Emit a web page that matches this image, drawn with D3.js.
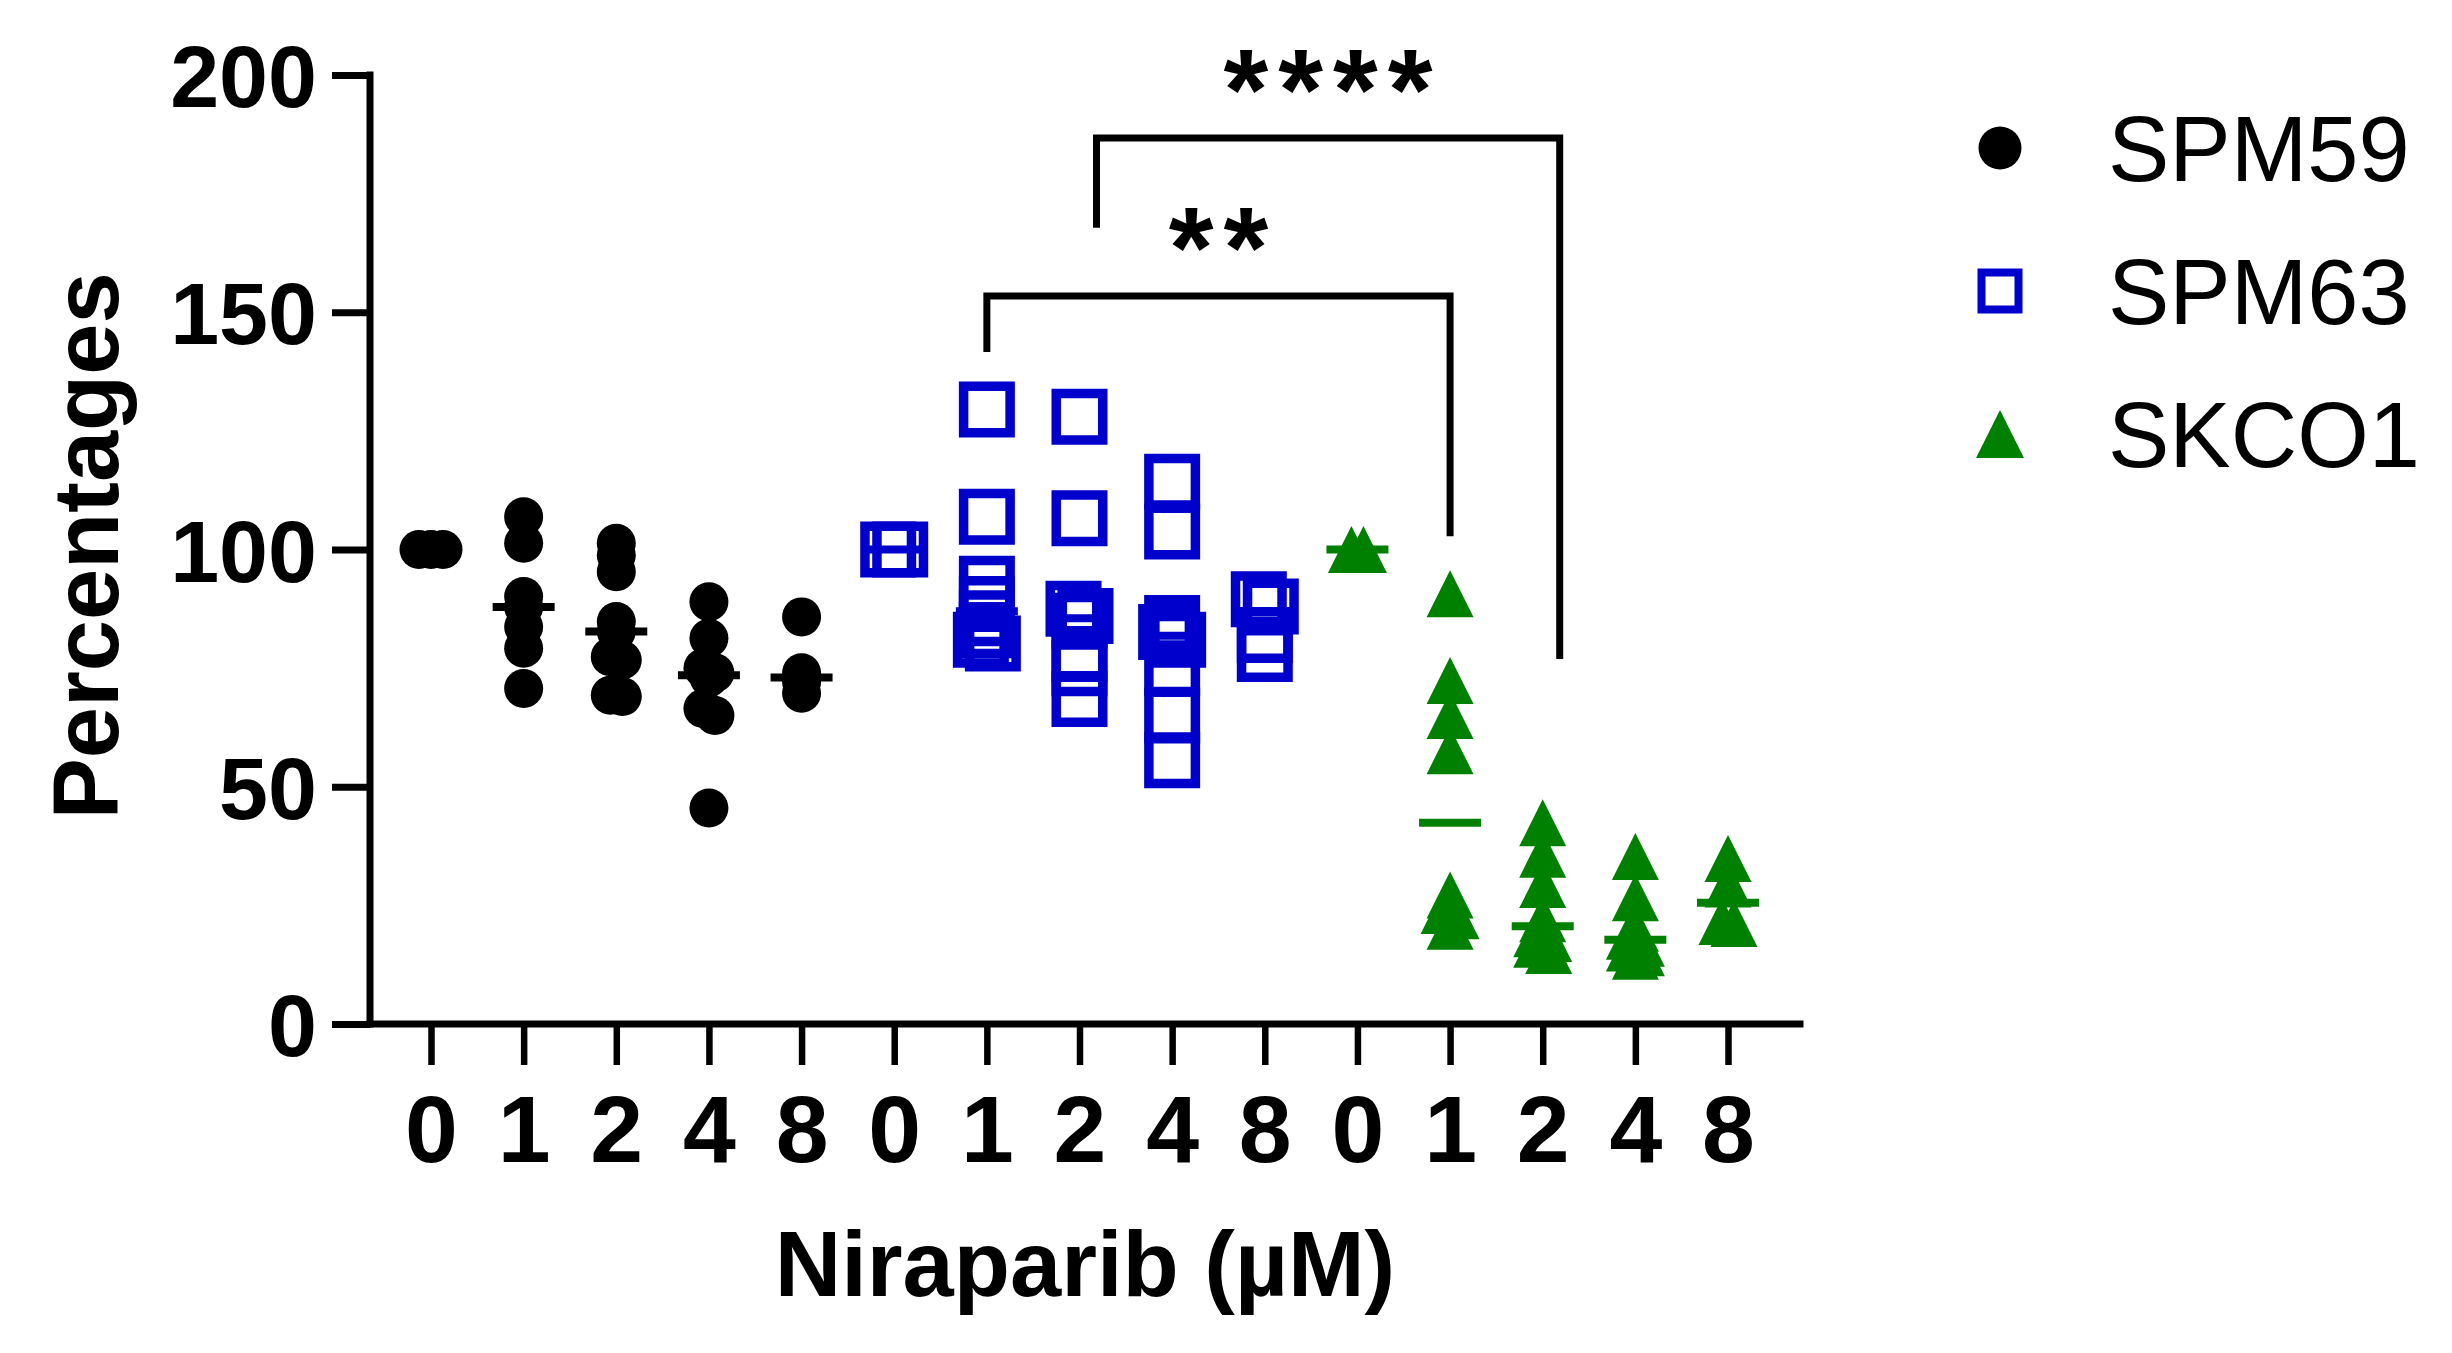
<!DOCTYPE html>
<html><head><meta charset="utf-8">
<script src="https://cdn.jsdelivr.net/npm/d3@7"></script>
<style>body{margin:0;background:#fff} svg{display:block}</style>
</head><body>
<svg id="chart" width="2452" height="1353"></svg>
<script>
// ---------- data ----------
const doses = ["0", "1", "2", "4", "8"];
const seriesNames = ["SPM59", "SPM63", "SKCO1"];
const seriesColors = ["#000000", "#0000CC", "#008000"];
const spm59 = [
  [100, 100, 100],
  [106.9, 101.3, 90.1, 87.9, 83.7, 79.2, 70.7],
  [101.3, 98.8, 95.3, 84.8, 82.7, 77.4, 76.7, 69.3, 69.0],
  [89.0, 81.3, 75.0, 74.0, 73.0, 66.5, 65.0, 45.5],
  [85.8, 74.0, 72.1, 69.7]
];
const spm63 = [
  [100, 100],
  [129.5, 106.9, 92.8, 88.5, 85.5, 83.0, 81.0, 80.2],
  [128.0, 106.6, 87.5, 86.0, 85.0, 78.0, 75.0, 68.5],
  [114.3, 103.8, 84.5, 82.6, 81.0, 75.0, 65.0, 55.6],
  [89.5, 88.0, 82.0, 78.0]
];
const skco1 = [
  [100, 100],
  [90.7, 72.4, 65.0, 57.6, 27.2, 23.9, 22.8, 20.6],
  [42.4, 35.8, 29.4, 22.2, 19.0, 18.0, 16.8, 15.5],
  [35.3, 26.6, 20.2, 18.5, 17.0, 16.0, 15.0, 14.3],
  [34.9, 29.5, 21.6, 21.2]
];
const yTicks = [0, 50, 100, 150, 200];
// significance brackets: [series, dose index] pairs, bracket level & leg ends (data units)
const compA = [[1, 1], [1, 2]];
const compB = [[2, 1], [2, 2]];
const compLabels = ["**", "****"];
const compLevels = [153.4, 186.7];
const compLegA = [141.6, 167.8];
const compLegB = [102.8, 76.9];

const allSeries = [spm59, spm63, skco1];

// ---------- layout ----------
const FONT = "'Liberation Sans', Arial, Helvetica, sans-serif";
const svg = d3.select("#chart");
svg.append("rect").attr("width", 2452).attr("height", 1353).attr("fill", "#fff");

const axisX0 = 370, axisX1 = 1800;
const x = d3.scalePoint().domain(d3.range(15)).range([431, 1728]);
const y = d3.scaleLinear().domain([0, 200]).range([1024, 75]);

// ---------- axes ----------
const gy = svg.append("g").attr("transform", `translate(${axisX0},0)`)
  .call(d3.axisLeft(y).tickValues(yTicks).tickSize(38).tickPadding(15));
gy.select(".domain").remove();
gy.selectAll(".tick line").attr("stroke", "#000").attr("stroke-width", 7);
gy.selectAll(".tick text").attr("font-family", FONT).attr("font-weight", "bold")
  .attr("font-size", 88).attr("fill", "#000").attr("dy", "0.36em");

const gx = svg.append("g").attr("transform", `translate(0,${y(0)})`)
  .call(d3.axisBottom(x).tickValues(d3.range(15)).tickFormat(i => doses[i % 5]).tickSize(41));
gx.select(".domain").remove();
gx.selectAll(".tick line").attr("stroke", "#000").attr("stroke-width", 6.5);
gx.selectAll(".tick text").attr("font-family", FONT).attr("font-weight", "bold")
  .attr("font-size", 95).attr("fill", "#000").attr("y", 138).attr("dy", null);

svg.append("line").attr("x1", axisX0).attr("x2", axisX0).attr("y1", y(200)).attr("y2", y(0))
  .attr("stroke", "#000").attr("stroke-width", 7).attr("stroke-linecap", "square");
svg.append("line").attr("x1", axisX0).attr("x2", axisX1).attr("y1", y(0)).attr("y2", y(0))
  .attr("stroke", "#000").attr("stroke-width", 7).attr("stroke-linecap", "square");

// axis titles
svg.append("text").attr("transform", "translate(118,546) rotate(-90)")
  .attr("text-anchor", "middle").attr("font-family", FONT).attr("font-weight", "bold")
  .attr("font-size", 92).text("Percentages");
svg.append("text").attr("x", 1085).attr("y", 1296)
  .attr("text-anchor", "middle").attr("font-family", FONT).attr("font-weight", "bold")
  .attr("font-size", 92).text("Niraparib (\u00B5M)");

// ---------- markers ----------
const triangleType = {
  draw(ctx, s) { const h = s / 2; ctx.moveTo(0, -h); ctx.lineTo(h, h); ctx.lineTo(-h, h); ctx.closePath(); }
};
const markerGen = [
  d3.symbol().type(d3.symbolCircle).size(Math.PI * 19.5 * 19.5),
  d3.symbol().type(d3.symbolSquare).size(46.5 * 46.5),
  d3.symbol().type(triangleType).size(47)
];
const legendGen = [
  d3.symbol().type(d3.symbolCircle).size(Math.PI * 21.5 * 21.5),
  d3.symbol().type(d3.symbolSquare).size(37 * 37),
  d3.symbol().type(triangleType).size(48)
];
function styleMarker(sel, si) {
  if (si === 1) sel.attr("fill", "none").attr("stroke", seriesColors[si]).attr("stroke-width", 9.5);
  else sel.attr("fill", seriesColors[si]).attr("stroke", "none");
}

// spread overlapping points horizontally (symmetric, per cluster of near-equal values)
function dodge(vals, h, s) {
  const sorted = vals.slice().sort((a, b) => b - a);
  const out = []; let cluster = [];
  const flush = () => {
    cluster.forEach((v, i) => out.push({ v, dx: (i - (cluster.length - 1) / 2) * s }));
    cluster = [];
  };
  sorted.forEach(v => {
    if (cluster.length && Math.abs(y(v) - y(cluster[0])) > h) flush();
    cluster.push(v);
  });
  flush();
  return out;
}

const plot = svg.append("g");
allSeries.forEach((groups, si) => {
  groups.forEach((vals, di) => {
    const cx = x(si * 5 + di);
    const pts = dodge(vals, 8, 12);
    const g = plot.append("g");
    g.selectAll("path").data(pts).join("path")
      .attr("d", markerGen[si])
      .attr("transform", d => `translate(${cx + d.dx},${y(d.v)})`)
      .call(styleMarker, si);
    const med = d3.median(vals);
    g.append("line").attr("x1", cx - 31).attr("x2", cx + 31)
      .attr("y1", y(med)).attr("y2", y(med))
      .attr("stroke", seriesColors[si]).attr("stroke-width", 8);
  });
});

// ---------- significance brackets ----------
const starSize = 115, starSpacing = 10;
compLabels.forEach((lab, k) => {
  const off = k === 1 ? 17 : 0;
  const xa = x(compA[k][0] * 5 + compA[k][1]) + off;
  const xb = x(compB[k][0] * 5 + compB[k][1]) + off;
  const yl = y(compLevels[k]);
  svg.append("path")
    .attr("d", `M${xa},${y(compLegA[k])}V${yl}H${xb}V${y(compLegB[k])}`)
    .attr("fill", "none").attr("stroke", "#000").attr("stroke-width", 7)
    .attr("stroke-linejoin", "miter").attr("stroke-linecap", "butt");
  svg.append("text").attr("x", (xa + xb) / 2 + starSpacing / 2).attr("y", yl - 9)
    .attr("text-anchor", "middle").attr("font-family", FONT).attr("font-weight", "bold")
    .attr("letter-spacing", starSpacing)
    .attr("font-size", starSize).text(lab);
});

// ---------- legend ----------
const lg = svg.append("g");
seriesNames.forEach((name, si) => {
  const ly = 148 + si * 143;
  lg.append("path").attr("d", legendGen[si]).attr("transform", `translate(2000,${ly})`)
    .call(styleMarker, si).attr("stroke-width", si === 1 ? 8 : null);
  lg.append("text").attr("x", 2108).attr("y", ly).attr("dy", "0.36em")
    .attr("font-family", FONT).attr("font-size", 92).attr("fill", "#000").text(name);
});
</script>
</body></html>
